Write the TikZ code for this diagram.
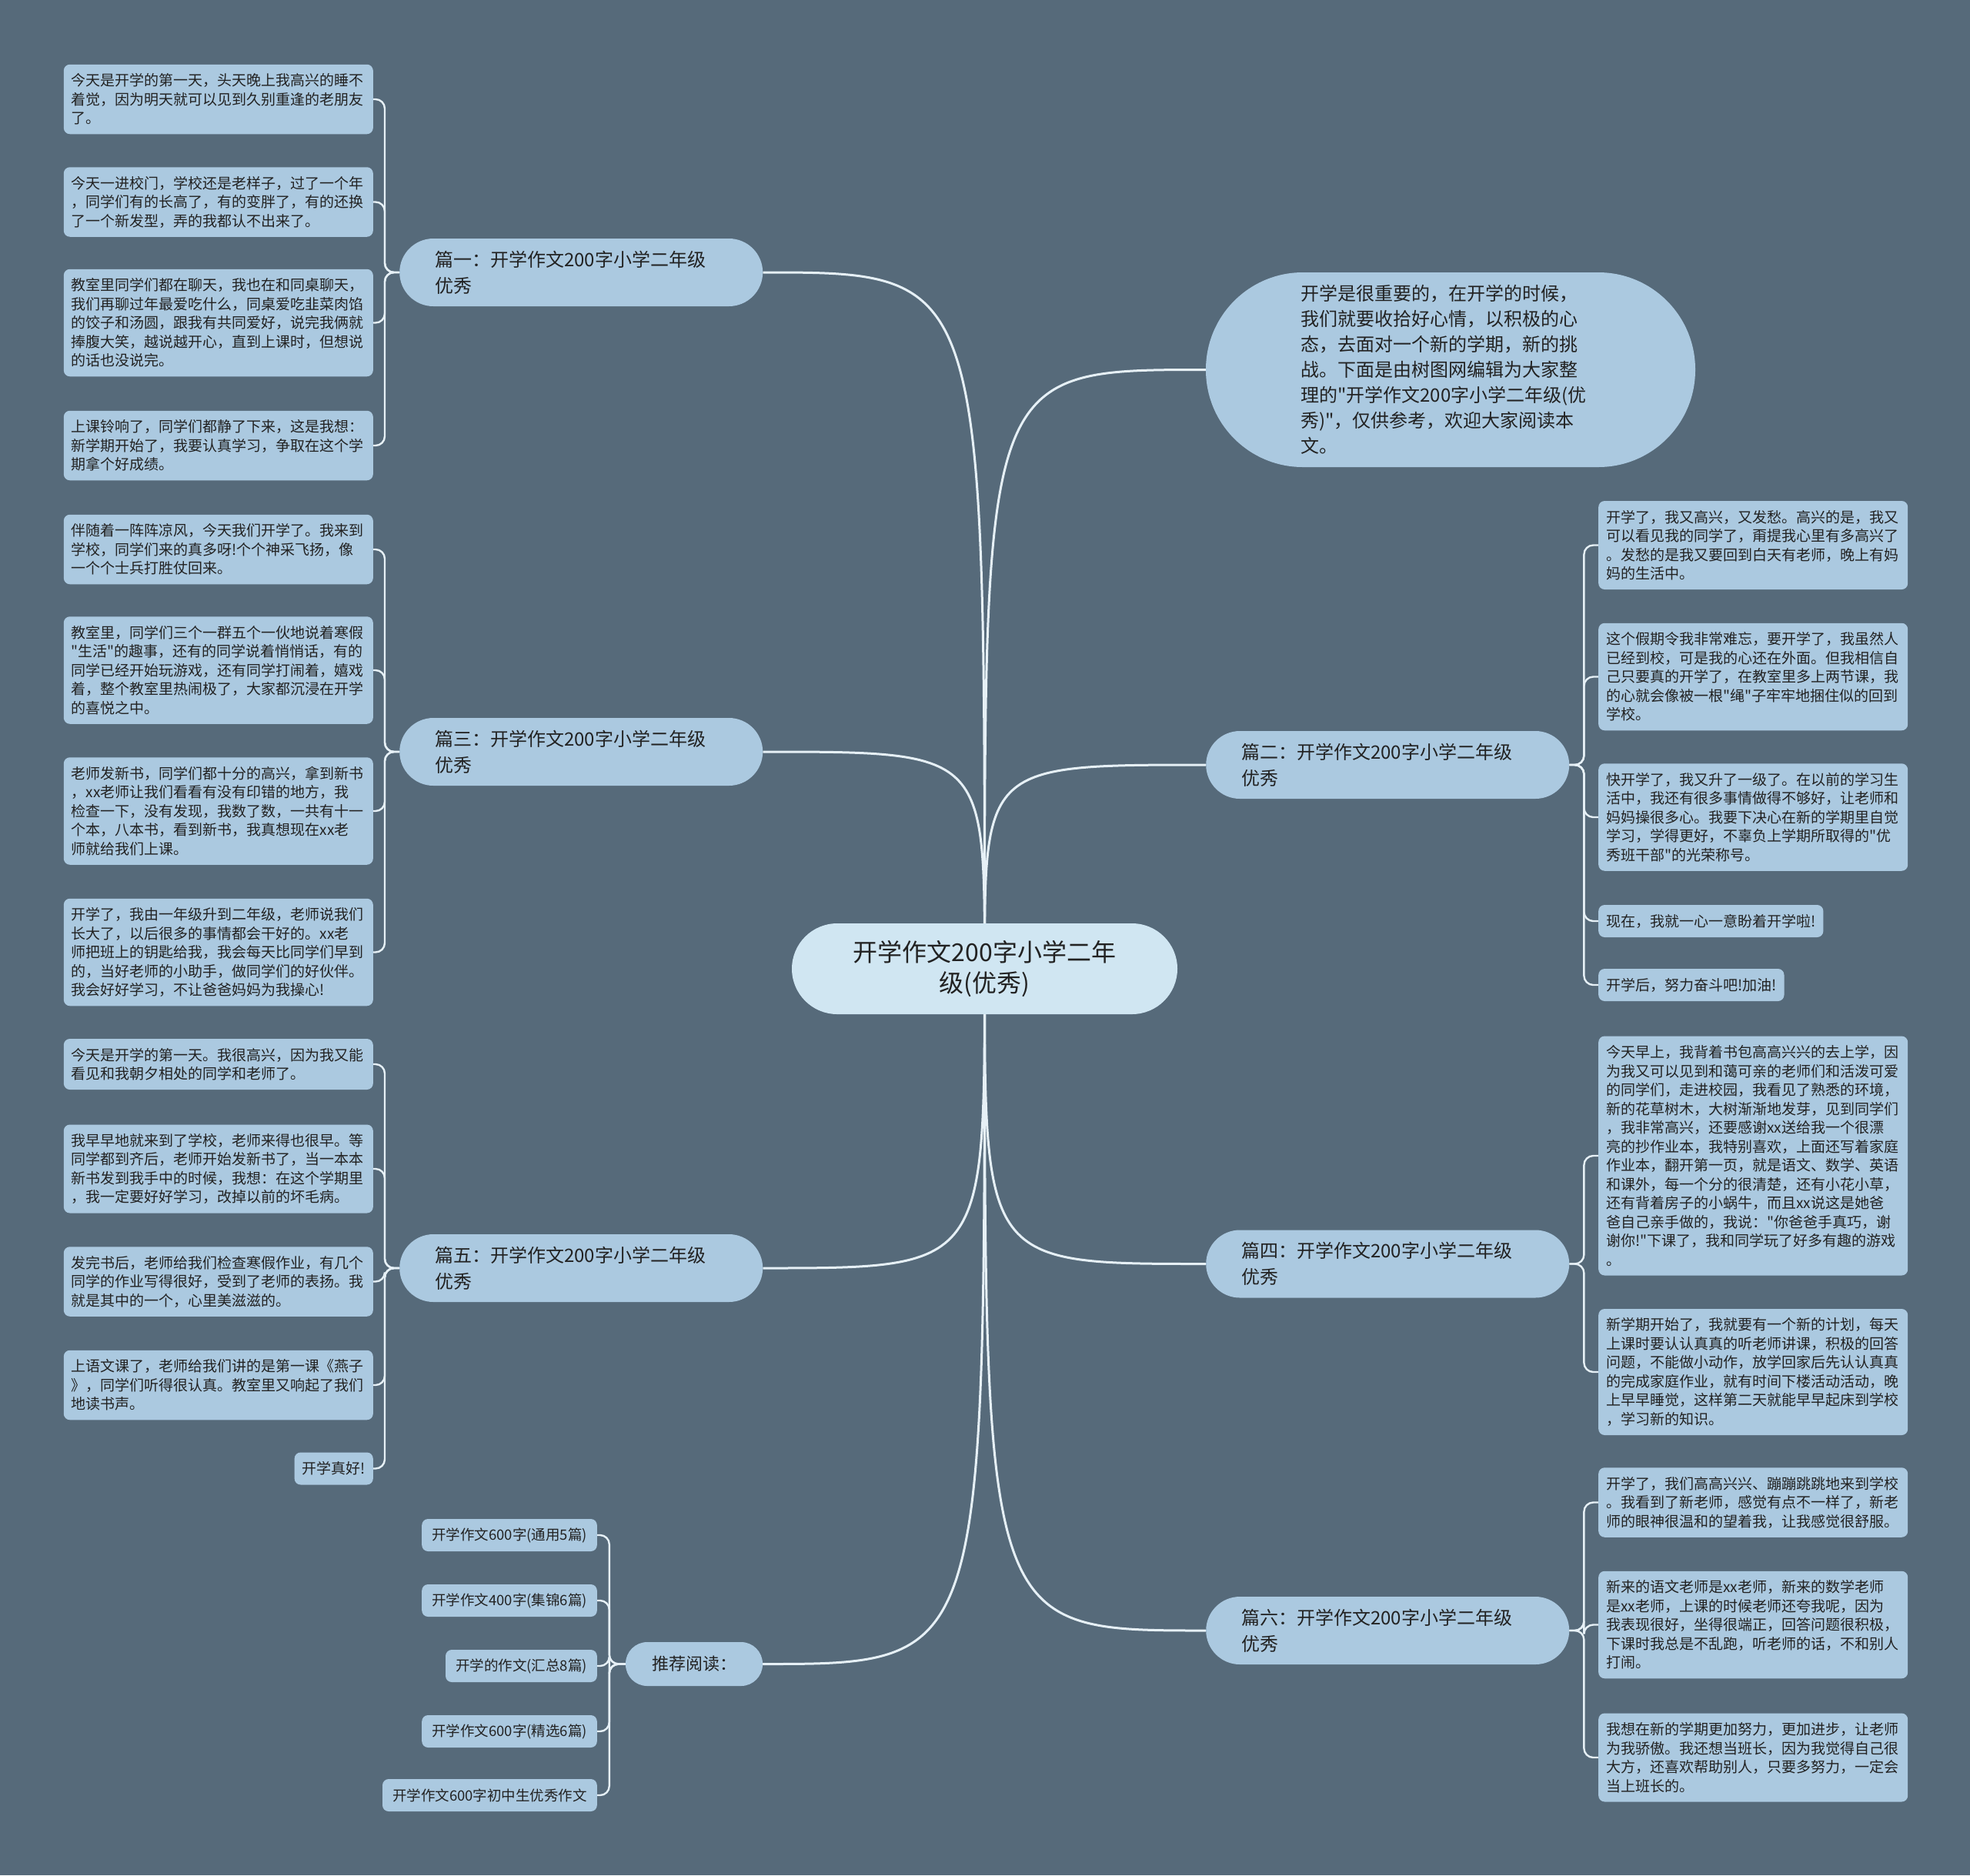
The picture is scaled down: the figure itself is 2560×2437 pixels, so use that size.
\documentclass[tikz,border=0pt]{standalone}
\usepackage{fontspec}
\setmainfont{Noto Sans CJK SC}
\newfontfamily\cjkplain{Noto Sans CJK SC}
\newcommand\myfs[2]{\cjkplain\fontsize{#1}{#2}\selectfont}
\definecolor{bgc}{HTML}{566A7A}
\definecolor{leafc}{HTML}{ABC9E0}
\definecolor{rootc}{HTML}{D0E6F2}
\definecolor{linec}{HTML}{E6F0F6}
\definecolor{txt}{HTML}{222222}
\pgfdeclarelayer{back}
\pgfdeclarelayer{lines}
\pgfsetlayers{back,lines,main}
\tikzset{
  box/.style={draw=none, fill=leafc, text=txt},
  leafbase/.style={box, rounded corners=8pt, font=\myfs{19}{24.5}, inner xsep=10pt, inner ysep=3pt},
  leaf/.style={leafbase, align=left, text width=382pt},
  leafone/.style={leafbase, minimum height=42pt},
  nlines/.style={minimum height=24.5*#1+17},
  branch/.style={box, rounded corners=44pt, font=\myfs{24}{34}, align=left, text width=380pt, inner xsep=46pt, inner ysep=0pt, minimum height=88pt, anchor=west},
  rootnode/.style={draw=none, fill=rootc, text=txt, rounded corners=59pt, font=\myfs{32}{40}, align=center, minimum width=501pt, minimum height=118pt},
  intronode/.style={box, rounded corners=126pt, font=\myfs{24}{33}, align=left, text width=390pt, inner xsep=123pt, inner ysep=0pt, minimum height=253pt},
  recnode/.style={box, rounded corners=28pt, font=\myfs{22}{26}, minimum width=178pt, minimum height=57pt},
  item/.style={box, rounded corners=8pt, font=\myfs{18.5}{22}, inner xsep=13pt, minimum height=42pt, anchor=east},
  mainline/.style={draw=linec, line width=3pt},
  leafline/.style={draw=linec, line width=2.4pt, rounded corners=12pt},
}
\begin{document}
\begin{tikzpicture}[x=1pt,y=-1pt]
\begin{pgfonlayer}{back}
\fill[bgc] (0,0) rectangle (2560,2437);
\end{pgfonlayer}
\useasboundingbox (0,0) rectangle (2560,2437);

% root and intro
\node[rootnode] (root) at (1279.5,1259) {开学作文200字小学二年\\级(优秀)};
\node[intronode] (intro) at (1885,480.5) {开学是很重要的，在开学的时候，\\我们就要收拾好心情，以积极的心\\态，去面对一个新的学期，新的挑\\战。下面是由树图网编辑为大家整\\理的"开学作文200字小学二年级(优\\秀)"，仅供参考，欢迎大家阅读本\\文。};

% branches
\node[branch] (p1) at (519,354) {篇一：开学作文200字小学二年级\\优秀};
\node[branch] (p3) at (519,977) {篇三：开学作文200字小学二年级\\优秀};
\node[branch] (p5) at (519,1648) {篇五：开学作文200字小学二年级\\优秀};
\node[branch] (p2) at (1567,994) {篇二：开学作文200字小学二年级\\优秀};
\node[branch] (p4) at (1567,1642.5) {篇四：开学作文200字小学二年级\\优秀};
\node[branch] (p6) at (1567,2119) {篇六：开学作文200字小学二年级\\优秀};
\node[recnode] (rec) at (902,2162.5) {推荐阅读：};

% left leaves of 篇一
\node[leaf, nlines=3, anchor=east] (l1a) at (485,129) {今天是开学的第一天，头天晚上我高兴的睡不\\着觉，因为明天就可以见到久别重逢的老朋友\\了。};
\node[leaf, nlines=3, anchor=east] (l1b) at (485,262.5) {今天一进校门，学校还是老样子，过了一个年\\，同学们有的长高了，有的变胖了，有的还换\\了一个新发型，弄的我都认不出来了。};
\node[leaf, nlines=5, anchor=east] (l1c) at (485,419.5) {教室里同学们都在聊天，我也在和同桌聊天，\\我们再聊过年最爱吃什么，同桌爱吃韭菜肉馅\\的饺子和汤圆，跟我有共同爱好，说完我俩就\\捧腹大笑，越说越开心，直到上课时，但想说\\的话也没说完。};
\node[leaf, nlines=3, anchor=east] (l1d) at (485,579) {上课铃响了，同学们都静了下来，这是我想：\\新学期开始了，我要认真学习，争取在这个学\\期拿个好成绩。};

% left leaves of 篇三
\node[leaf, nlines=3, anchor=east] (l3a) at (485,714) {伴随着一阵阵凉风，今天我们开学了。我来到\\学校，同学们来的真多呀!个个神采飞扬，像\\一个个士兵打胜仗回来。};
\node[leaf, nlines=5, anchor=east] (l3b) at (485,871) {教室里，同学们三个一群五个一伙地说着寒假\\"生活"的趣事，还有的同学说着悄悄话，有的\\同学已经开始玩游戏，还有同学打闹着，嬉戏\\着，整个教室里热闹极了，大家都沉浸在开学\\的喜悦之中。};
\node[leaf, nlines=5, anchor=east] (l3c) at (485,1054) {老师发新书，同学们都十分的高兴，拿到新书\\，xx老师让我们看看有没有印错的地方，我\\检查一下，没有发现，我数了数，一共有十一\\个本，八本书，看到新书，我真想现在xx老\\师就给我们上课。};
\node[leaf, nlines=5, anchor=east] (l3d) at (485,1237.5) {开学了，我由一年级升到二年级，老师说我们\\长大了，以后很多的事情都会干好的。xx老\\师把班上的钥匙给我，我会每天比同学们早到\\的，当好老师的小助手，做同学们的好伙伴。\\我会好好学习，不让爸爸妈妈为我操心!};

% left leaves of 篇五
\node[leaf, nlines=2, anchor=east] (l5a) at (485,1383) {今天是开学的第一天。我很高兴，因为我又能\\看见和我朝夕相处的同学和老师了。};
\node[leaf, nlines=4, anchor=east] (l5b) at (485,1519) {我早早地就来到了学校，老师来得也很早。等\\同学都到齐后，老师开始发新书了，当一本本\\新书发到我手中的时候，我想：在这个学期里\\，我一定要好好学习，改掉以前的坏毛病。};
\node[leaf, nlines=3, anchor=east] (l5c) at (485,1665.5) {发完书后，老师给我们检查寒假作业，有几个\\同学的作业写得很好，受到了老师的表扬。我\\就是其中的一个，心里美滋滋的。};
\node[leaf, nlines=3, anchor=east] (l5d) at (485,1800) {上语文课了，老师给我们讲的是第一课《燕子\\》，同学们听得很认真。教室里又响起了我们\\地读书声。};
\node[leafone, anchor=east] (l5e) at (485,1908.5) {开学真好!};

% right leaves of 篇二
\node[leaf, nlines=4, anchor=west] (r2a) at (2077,708.5) {开学了，我又高兴，又发愁。高兴的是，我又\\可以看见我的同学了，甭提我心里有多高兴了\\。发愁的是我又要回到白天有老师，晚上有妈\\妈的生活中。};
\node[leaf, nlines=5, anchor=west] (r2b) at (2077,879.5) {这个假期令我非常难忘，要开学了，我虽然人\\已经到校，可是我的心还在外面。但我相信自\\己只要真的开学了，在教室里多上两节课，我\\的心就会像被一根"绳"子牢牢地捆住似的回到\\学校。};
\node[leaf, nlines=5, anchor=west] (r2c) at (2077,1062) {快开学了，我又升了一级了。在以前的学习生\\活中，我还有很多事情做得不够好，让老师和\\妈妈操很多心。我要下决心在新的学期里自觉\\学习，学得更好，不辜负上学期所取得的"优\\秀班干部"的光荣称号。};
\node[leafone, anchor=west] (r2d) at (2077,1197) {现在，我就一心一意盼着开学啦!};
\node[leafone, anchor=west] (r2e) at (2077,1280) {开学后，努力奋斗吧!加油!};

% right leaves of 篇四
\node[leaf, nlines=12, anchor=west] (r4a) at (2077,1502) {今天早上，我背着书包高高兴兴的去上学，因\\为我又可以见到和蔼可亲的老师们和活泼可爱\\的同学们，走进校园，我看见了熟悉的环境，\\新的花草树木，大树渐渐地发芽，见到同学们\\，我非常高兴，还要感谢xx送给我一个很漂\\亮的抄作业本，我特别喜欢，上面还写着家庭\\作业本，翻开第一页，就是语文、数学、英语\\和课外，每一个分的很清楚，还有小花小草，\\还有背着房子的小蜗牛，而且xx说这是她爸\\爸自己亲手做的，我说："你爸爸手真巧，谢\\谢你!"下课了，我和同学玩了好多有趣的游戏\\。};
\node[leaf, nlines=6, anchor=west] (r4b) at (2077,1783) {新学期开始了，我就要有一个新的计划，每天\\上课时要认认真真的听老师讲课，积极的回答\\问题，不能做小动作，放学回家后先认认真真\\的完成家庭作业，就有时间下楼活动活动，晚\\上早早睡觉，这样第二天就能早早起床到学校\\，学习新的知识。};

% right leaves of 篇六
\node[leaf, nlines=3, anchor=west] (r6a) at (2077,1952.5) {开学了，我们高高兴兴、蹦蹦跳跳地来到学校\\。我看到了新老师，感觉有点不一样了，新老\\师的眼神很温和的望着我，让我感觉很舒服。};
\node[leaf, nlines=5, anchor=west] (r6b) at (2077,2111.5) {新来的语文老师是xx老师，新来的数学老师\\是xx老师，上课的时候老师还夸我呢，因为\\我表现很好，坐得很端正，回答问题很积极，\\下课时我总是不乱跑，听老师的话，不和别人\\打闹。};
\node[leaf, nlines=4, anchor=west] (r6c) at (2077,2284) {我想在新的学期更加努力，更加进步，让老师\\为我骄傲。我还想当班长，因为我觉得自己很\\大方，还喜欢帮助别人，只要多努力，一定会\\当上班长的。};

% recommended items
\node[item] (i1) at (776,1995) {开学作文600字(通用5篇)};
\node[item] (i2) at (776,2080) {开学作文400字(集锦6篇)};
\node[item] (i3) at (776,2165) {开学的作文(汇总8篇)};
\node[item] (i4) at (776,2250) {开学作文600字(精选6篇)};
\node[item] (i5) at (776,2333) {开学作文600字初中生优秀作文};

\begin{pgfonlayer}{lines}
% main connectors
\foreach \b in {p1,p3,p5,rec}
  \draw[mainline] (root.center) .. controls (root.center |- \b.east) .. (\b.east);
\foreach \b in {intro,p2,p4,p6}
  \draw[mainline] (root.center) .. controls (root.center |- \b.west) .. (\b.west);
% left leaf connectors
\foreach \l in {l1a,l1b,l1c,l1d}
  \draw[leafline] (p1.west) -- ++(-19,0) |- (\l.east);
\foreach \l in {l3a,l3b,l3c,l3d}
  \draw[leafline] (p3.west) -- ++(-19,0) |- (\l.east);
\foreach \l in {l5a,l5b,l5c,l5d,l5e}
  \draw[leafline] (p5.west) -- ++(-19,0) |- (\l.east);
% right leaf connectors
\foreach \l in {r2a,r2b,r2c,r2d,r2e}
  \draw[leafline] (p2.east) -- ++(19,0) |- (\l.west);
\foreach \l in {r4a,r4b}
  \draw[leafline] (p4.east) -- ++(19,0) |- (\l.west);
\foreach \l in {r6a,r6b,r6c}
  \draw[leafline] (p6.east) -- ++(19,0) |- (\l.west);
% recommended
\foreach \l in {i1,i2,i3,i4,i5}
  \draw[leafline] (rec.west) -- ++(-21,0) |- (\l.east);
\end{pgfonlayer}
\end{tikzpicture}
\end{document}
